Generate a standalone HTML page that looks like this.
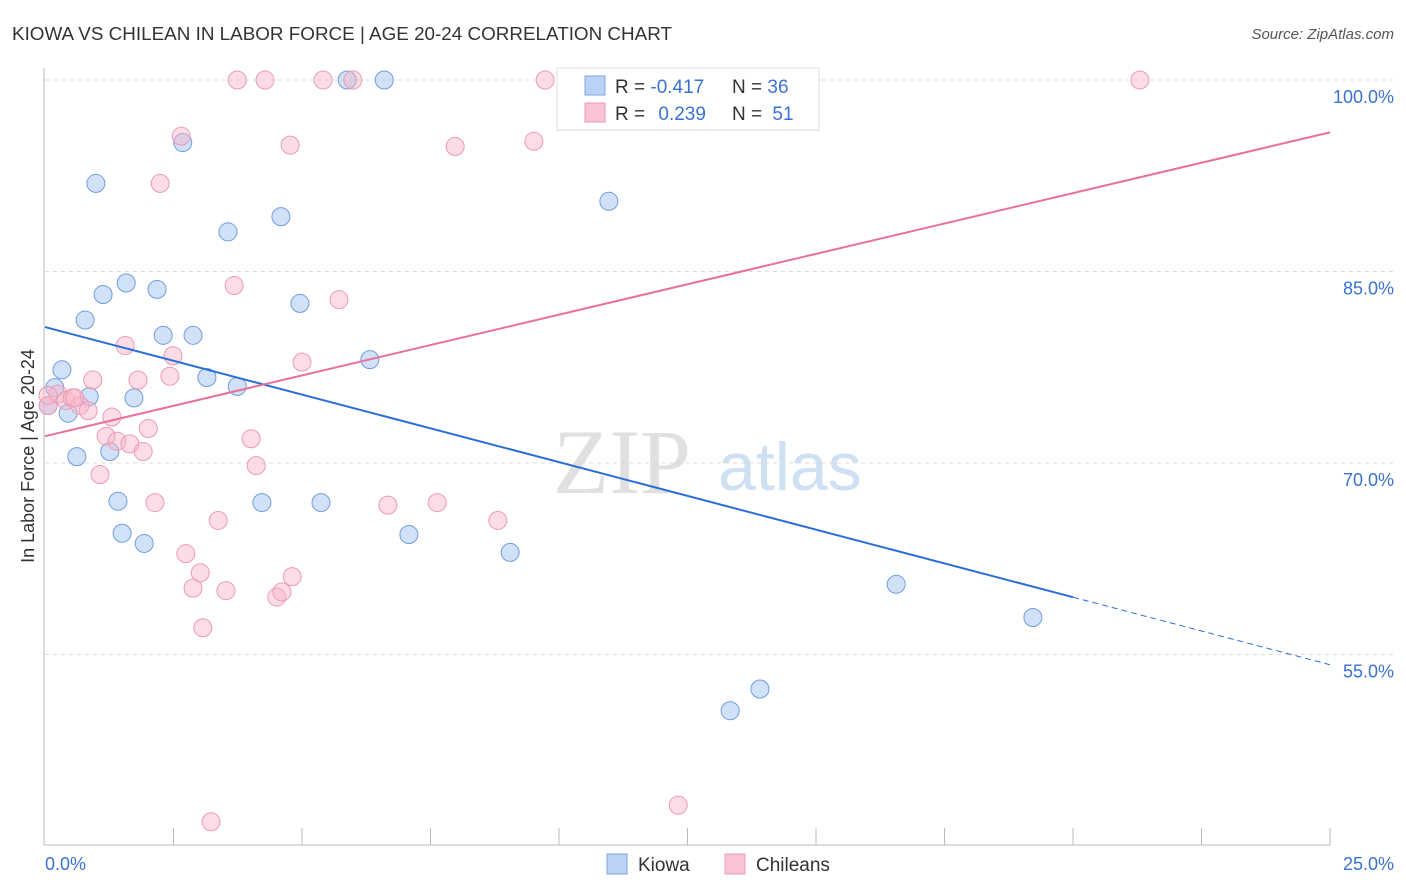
<!DOCTYPE html>
<html><head><meta charset="utf-8"><style>
body{margin:0;background:#fff;font-family:"Liberation Sans",sans-serif}
svg{display:block}
</style></head><body>
<svg id="chart" width="1406" height="892">
<text x="12" y="40" font-size="18" fill="#333" textLength="660" lengthAdjust="spacingAndGlyphs">KIOWA VS CHILEAN IN LABOR FORCE | AGE 20-24 CORRELATION CHART</text>
<text x="1394" y="39" font-size="15" fill="#555" font-style="italic" text-anchor="end">Source: ZipAtlas.com</text>
<g>
<text x="553" y="493" font-size="92" font-family="Liberation Serif,serif" fill="#e0e0e0">ZIP</text>
<text x="718" y="490" font-size="68" fill="#cfe0f3">atlas</text>
</g>
<g id="grid"></g>
<line x1="44" y1="68" x2="44" y2="845" stroke="#bbb"/>
<line x1="44" y1="845" x2="1330" y2="845" stroke="#bbb"/>
<g id="xticks"></g>
<text x="45" y="870" font-size="18" fill="#3a72d4">0.0%</text>
<text x="1394" y="870" font-size="18" fill="#3a72d4" text-anchor="end">25.0%</text>
<text transform="translate(34,456) rotate(-90)" font-size="18" fill="#333" text-anchor="middle">In Labor Force | Age 20-24</text>
<g id="points"></g>
<g id="trends"></g>
<g>
<rect x="557" y="68" width="262" height="62" fill="#fff" stroke="#ddd"/>
<rect x="585" y="76" width="20" height="19" fill="#b9d2f5" stroke="#7ea6e2"/>
<rect x="585" y="103" width="20" height="19" fill="#f9c5d4" stroke="#ec9ab4"/>
<text x="615" y="93" font-size="19" fill="#333">R = <tspan fill="#3a72d4">-0.417</tspan></text>
<text x="732" y="93" font-size="19" fill="#333">N = <tspan fill="#3a72d4">36</tspan></text>
<text x="615" y="120" font-size="19" fill="#333">R = <tspan fill="#3a72d4" dx="8">0.239</tspan></text>
<text x="732" y="120" font-size="19" fill="#333">N = <tspan fill="#3a72d4" dx="5">51</tspan></text>
</g>
<g>
<rect x="607" y="854" width="20" height="20" fill="#b9d2f5" stroke="#7ea6e2"/>
<text x="638" y="871" font-size="19" fill="#333">Kiowa</text>
<rect x="725" y="854" width="20" height="20" fill="#f9c5d4" stroke="#ec9ab4"/>
<text x="756" y="871" font-size="19" fill="#333">Chileans</text>
</g>
</svg>
<script>
const yTicks=[100,85,70,55];
const yTickLabels=["100.0%","85.0%","70.0%","55.0%"];
const xTicks=[2.5,5,7.5,10,12.5,15,17.5,20,22.5,25];
const kiowaX=[0.06,0.19,0.33,0.45,0.62,0.78,0.86,0.99,1.13,1.26,1.42,1.50,1.58,1.73,1.93,2.18,2.30,2.68,2.88,3.15,3.56,3.74,4.22,4.59,4.96,5.37,5.88,6.32,6.60,7.08,9.05,10.97,16.56,19.22,13.33,13.91];
const kiowaY=[74.5,75.9,77.3,73.9,70.5,81.2,75.2,91.9,83.2,70.9,67.0,64.5,84.1,75.1,63.7,83.6,80.0,95.1,80.0,76.7,88.1,76.0,66.9,89.3,82.5,66.9,100,78.1,100,64.4,63.0,90.5,60.5,57.9,50.6,52.3];
const chileX=[0.06,0.25,0.41,0.53,0.68,0.84,0.93,1.07,1.19,1.30,1.40,1.56,1.65,1.81,1.91,2.01,2.14,2.24,2.43,2.49,2.65,2.74,2.88,3.02,3.07,3.23,3.37,3.52,3.68,3.74,4.01,4.11,4.28,4.51,4.61,4.77,4.81,5.00,5.41,5.72,5.99,6.67,7.63,7.98,8.81,9.51,9.73,12.32,21.30,0.06,0.58];
const chileY=[74.5,75.4,74.9,75.1,74.5,74.1,76.5,69.1,72.1,73.6,71.7,79.2,71.5,76.5,70.9,72.7,66.9,91.9,76.8,78.4,95.6,62.9,60.2,61.4,57.1,41.9,65.5,60.0,83.9,100,71.9,69.8,100,59.5,59.9,94.9,61.1,77.9,100,82.8,100,66.7,66.9,94.8,65.5,95.2,100,43.2,100,75.3,75.1];
const kiowaTrend=[80.65,54.2];
const chileTrend=[72.1,95.9];
const NS="http://www.w3.org/2000/svg";
const sx=v=>45+v*1285/25;
const sy=v=>80+(100-v)*12.767;
function mk(tag,attrs,parent){const e=document.createElementNS(NS,tag);for(const k in attrs)e.setAttribute(k,attrs[k]);document.getElementById(parent).appendChild(e);return e;}
yTicks.forEach((t,i)=>{
 const l=mk('line',{x1:45,x2:1394,y1:sy(t),y2:sy(t),stroke:'#ddd','stroke-dasharray':'4 4'},'grid');
 
 
 const tx=mk('text',{x:1394,y:sy(t)+23,'font-size':18,fill:'#3a72d4','text-anchor':'end'},'grid');
 tx.textContent=yTickLabels[i];
 
 
});
xTicks.forEach(t=>{
 const l=mk('line',{x1:sx(t),x2:sx(t),y1:828,y2:845,stroke:'#bbb'},'xticks');
 
 
});
kiowaX.forEach((x,i)=>{
 const c=mk('circle',{cx:sx(x),cy:sy(kiowaY[i]),r:9,fill:'rgba(164,196,240,0.5)',stroke:'#6f9de0','stroke-width':1},'points');
 
 
});
chileX.forEach((x,i)=>{
 const c=mk('circle',{cx:sx(x),cy:sy(chileY[i]),r:9,fill:'rgba(248,180,200,0.45)',stroke:'#eb9ab4','stroke-width':1},'points');
 
 
});
const ky=x=>kiowaTrend[0]+(kiowaTrend[1]-kiowaTrend[0])*x/25;
const k1=mk('line',{x1:sx(0),y1:sy(ky(0)),x2:sx(20),y2:sy(ky(20)),stroke:'#2a6fd6','stroke-width':2},'trends');


const k2=mk('line',{x1:sx(20),y1:sy(ky(20)),x2:sx(25),y2:sy(ky(25)),stroke:'#2a6fd6','stroke-width':1,'stroke-dasharray':'6 4'},'trends');


const c1=mk('line',{x1:sx(0),y1:sy(chileTrend[0]),x2:sx(25),y2:sy(chileTrend[1]),stroke:'#e8709a','stroke-width':2},'trends');


</script>
</body></html>
